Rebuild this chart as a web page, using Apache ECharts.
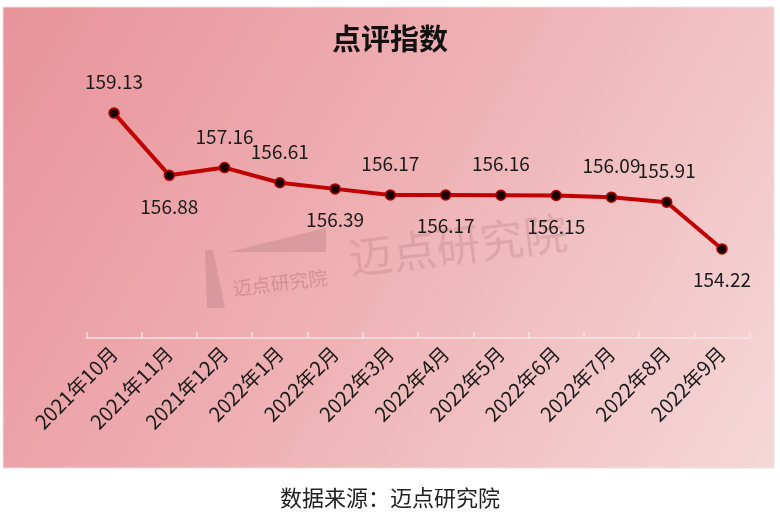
<!DOCTYPE html>
<html><head><meta charset="utf-8">
<script src="https://cdn.jsdelivr.net/npm/echarts@6/dist/echarts.min.js"></script>
<style>html,body{margin:0;padding:0;background:#fff}#c{width:780px;height:517px}</style>
</head><body><div id="c"></div>
<script>
const categories = ['2021年10月','2021年11月','2021年12月','2022年1月','2022年2月','2022年3月','2022年4月','2022年5月','2022年6月','2022年7月','2022年8月','2022年9月'];
const values = [159.13,156.88,157.16,156.61,156.39,156.17,156.17,156.16,156.15,156.09,155.91,154.22];
const labelPos = ['top','bottom','top','top','bottom','top','bottom','top','bottom','top','top','bottom'];
const title = '点评指数';
const source = '数据来源：迈点研究院';

const font = '"Noto Sans CJK SC", "Noto Sans", sans-serif';
const chart = echarts.init(document.getElementById('c'), null, {renderer:'canvas'});
chart.setOption({
  backgroundColor: '#ffffff',
  animation: false,
  graphic: [
    {type:'rect', z:-10, shape:{x:3,y:7,width:771,height:461},
     style:{fill:new echarts.graphic.LinearGradient(0,0,1,1,[{offset:0,color:'#e8939a'},{offset:0.5,color:'#efb2b5'},{offset:1,color:'#f5d8d8'}]), stroke:'#e8e0e0', lineWidth:1}},
    {type:'text', z:-5, x:458, y:245, rotation:0.12,
     style:{text:'迈点研究院', font:'44px '+font, fill:'rgba(190,130,135,0.35)', textAlign:'center', textVerticalAlign:'middle'}},
    {type:'polygon', z:-5, shape:{points:[[228,252],[326,228],[326,252]]}, style:{fill:'rgba(180,120,125,0.35)'}},
    {type:'polygon', z:-5, shape:{points:[[205,250],[213,250],[225,308],[207,308]]}, style:{fill:'rgba(180,120,125,0.35)'}},
    {type:'text', z:-5, x:280, y:283, rotation:0.12,
     style:{text:'迈点研究院', font:'19px '+font, fill:'rgba(170,110,115,0.45)', textAlign:'center', textVerticalAlign:'middle'}},
    {type:'text', left:'center', top:487,
     style:{text:source, font:'22px '+font, fill:'#222', textAlign:'center'}}
  ],
  title: {text:title, left:'center', top:19, textStyle:{fontSize:29, fontWeight:'bold', color:'#111', fontFamily:font}},
  grid: {left:86.4, right:30.4, top:89, bottom:179, containLabel:false},
  xAxis: {
    type:'category', data:categories, boundaryGap:true,
    axisLine:{show:true, lineStyle:{color:'#f3e4e4', width:1.5}},
    axisTick:{show:true, inside:true, length:6, lineStyle:{color:'#f3e4e4', width:1.5}},
    axisLabel:{rotate:45, interval:0, fontSize:20, color:'#1a1a1a', fontFamily:font, margin:12}
  },
  yAxis: {type:'value', min:151, max:160, show:false, splitLine:{show:false}},
  series: [{
    type:'line', data: values.map((v,i)=>({value:v, label:{position:labelPos[i]}})),
    symbol:'circle', symbolSize:10,
    lineStyle:{color:'#c00000', width:4},
    itemStyle:{color:'#1a0000', borderColor:'#b00000', borderWidth:1.5},
    label:{show:true, fontSize:19, color:'#1a1a1a', fontFamily:font, distance:16,
      formatter:p=>p.value.toFixed(2)}
  }]
});
</script></body></html>
